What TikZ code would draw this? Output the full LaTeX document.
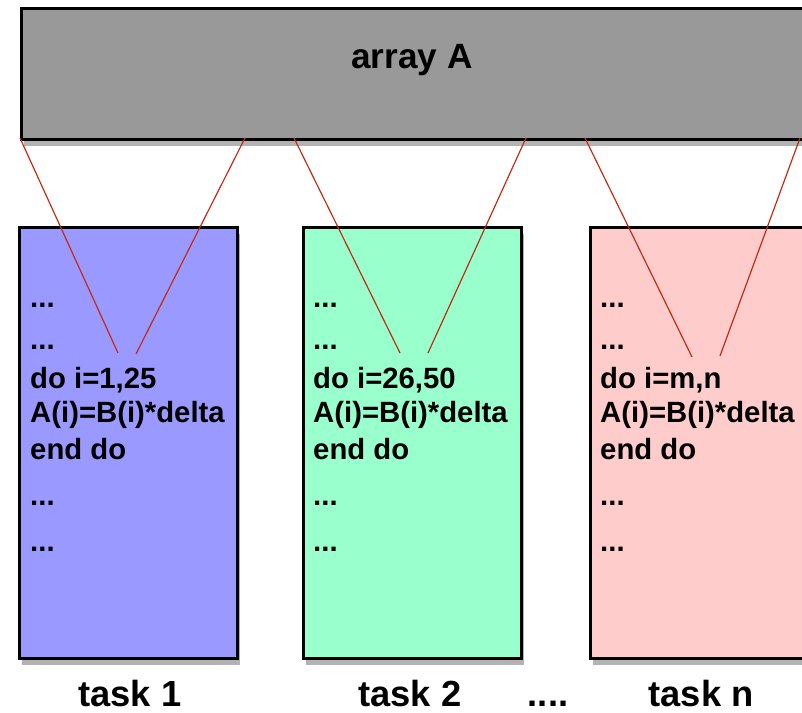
\documentclass[tikz,border=0pt]{standalone}
\usepackage{fontspec}
\setmainfont{Liberation Sans}
\usetikzlibrary{positioning,shadows}

\definecolor{arraygray}{RGB}{153,153,153}
\definecolor{taskblue}{RGB}{153,153,255}
\definecolor{taskgreen}{RGB}{153,255,204}
\definecolor{taskpink}{RGB}{255,204,204}
\definecolor{mapred}{RGB}{196,40,16}

\tikzset{
  box/.style={draw=black, line width=2.2pt, anchor=north west, inner sep=0pt,
    drop shadow={shadow xshift=2pt, shadow yshift=-6pt, opacity=0.6}},
  code/.style={anchor=north west, align=left, inner sep=0pt,
    font=\bfseries\fontsize{25}{29.5}\selectfont},
  tasklabel/.style={anchor=base, font=\bfseries\fontsize{31}{36}\selectfont},
  map/.style={draw=mapred, line width=1pt}
}

\begin{document}
\begin{tikzpicture}[x=0.03cm, y=-0.03cm]
    \clip (0,0) rectangle (802,713);
    % shared array
    \node[box, fill=arraygray, minimum width=24.3cm, minimum height=3.93cm] (arr) at (20,7) {};
    \node[font=\bfseries\fontsize{30}{36}\selectfont] (arrname) at (412,60) {array A};
    % tasks
    \node[box, fill=taskblue, minimum width=6.54cm, minimum height=12.93cm] (t1) at (18,226) {};
    \node[box, fill=taskgreen, minimum width=6.54cm, minimum height=12.93cm] (t2) at (302,226) {};
    \node[box, fill=taskpink, minimum width=6.54cm, minimum height=12.93cm] (t3) at (589,226) {};
    \node[code] (c1) at (30,303) {...\\[6pt] ...\\[4pt] do i=1,25\\ A(i)=B(i)*delta\\[2pt] end do\\[9pt] ...\\[10pt] ...};
    \node[code] (c2) at (313,303) {...\\[6pt] ...\\[4pt] do i=26,50\\ A(i)=B(i)*delta\\[2pt] end do\\[9pt] ...\\[10pt] ...};
    \node[code] (c3) at (600,303) {...\\[6pt] ...\\[4pt] do i=m,n\\ A(i)=B(i)*delta\\[2pt] end do\\[9pt] ...\\[10pt] ...};
    \node[tasklabel] (l1) at (130,707) {task 1};
    \node[tasklabel] (l2) at (410,707) {task 2};
    \node[tasklabel] (ldots) at (548,707) {....};
    \node[tasklabel] (l3) at (701,707) {task n};
    % mapping of array parts to loops
    \coordinate (s1) at (20,138);  \coordinate (e1) at (118,353);
    \coordinate (s2) at (245,138); \coordinate (e2) at (136,354);
    \coordinate (s3) at (294,138); \coordinate (e3) at (400,353);
    \coordinate (s4) at (526,138); \coordinate (e4) at (428,353);
    \coordinate (s5) at (585,138); \coordinate (e5) at (692,357);
    \coordinate (s6) at (800,138); \coordinate (e6) at (720,356);
    \foreach \s/\e in {s1/e1,s2/e2,s3/e3,s4/e4,s5/e5,s6/e6}
        \draw[map] (\s) -- (\e);
\end{tikzpicture}
\end{document}
